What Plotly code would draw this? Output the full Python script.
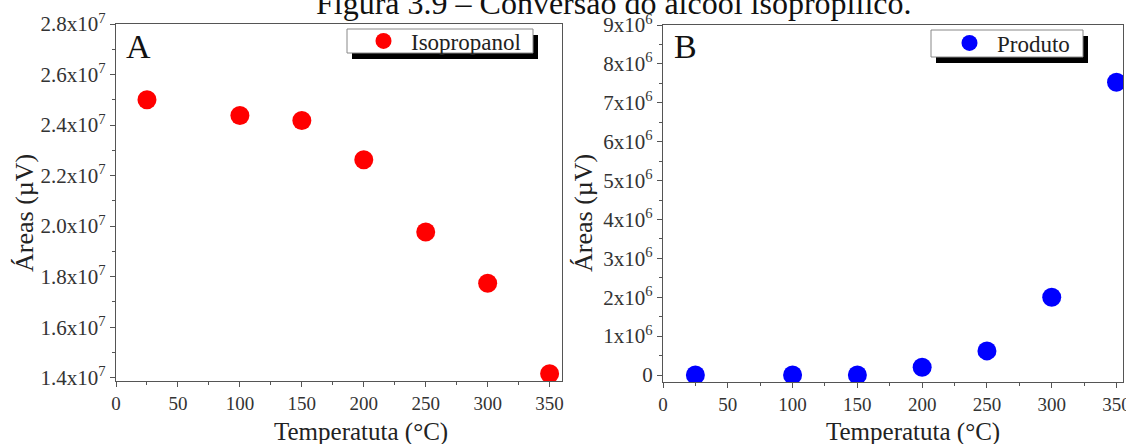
import plotly.graph_objects as go

# Data
temperatures = [25, 100, 150, 200, 250, 300, 350]
isopropanol_area = [2.500e7, 2.438e7, 2.418e7, 2.263e7, 1.977e7, 1.774e7, 1.416e7]
produto_area = [0.0, 0.0, 0.0, 0.2e6, 0.62e6, 2.0e6, 7.53e6]

x_tickvals = [0, 50, 100, 150, 200, 250, 300, 350]
a_tickvals = [1.4e7, 1.6e7, 1.8e7, 2.0e7, 2.2e7, 2.4e7, 2.6e7, 2.8e7]
a_ticktext = ["1.4x10<sup>7</sup>", "1.6x10<sup>7</sup>", "1.8x10<sup>7</sup>", "2.0x10<sup>7</sup>",
              "2.2x10<sup>7</sup>", "2.4x10<sup>7</sup>", "2.6x10<sup>7</sup>", "2.8x10<sup>7</sup>"]
b_tickvals = [0, 1e6, 2e6, 3e6, 4e6, 5e6, 6e6, 7e6, 8e6, 9e6]
b_ticktext = ["0"] + [f"{i}x10<sup>6</sup>" for i in range(1, 10)]

W, H = 1126, 444
FONT = "Liberation Serif, Times New Roman, serif"
AXIS_COLOR = "#555555"
TEXT_COLOR = "#222222"


def px(x):
    return x / W


def py(y):
    return 1 - y / H


fig = go.Figure()

fig.add_trace(go.Scatter(
    x=temperatures, y=isopropanol_area, mode="markers", name="Isopropanol",
    marker=dict(color="#ff0000", size=19, line=dict(width=0)),
    xaxis="x", yaxis="y", legend="legend",
))
fig.add_trace(go.Scatter(
    x=temperatures, y=produto_area, mode="markers", name="Produto",
    marker=dict(color="#0000ff", size=19, line=dict(width=0)),
    xaxis="x2", yaxis="y2", legend="legend2",
))


def axis_style(tick_size):
    return dict(
        showline=True, linecolor=AXIS_COLOR, linewidth=1.3, mirror=True,
        ticks="outside", ticklen=5, tickwidth=1.2, tickcolor=AXIS_COLOR,
        showgrid=False, zeroline=False,
        tickfont=dict(family=FONT, size=tick_size, color="#333333"),
        automargin=False, ticklabeloverflow="allow",
    )


fig.update_layout(
    width=W, height=H,
    margin=dict(l=0, r=0, t=0, b=0),
    paper_bgcolor="white", plot_bgcolor="white",
    template="none",
    font=dict(family=FONT, color=TEXT_COLOR),
    xaxis=dict(domain=[px(116), px(562)], range=[0, 360], anchor="y",
               tickvals=x_tickvals,
               minor=dict(dtick=25, ticks="outside", ticklen=3, tickcolor=AXIS_COLOR),
               **axis_style(19)),
    yaxis=dict(domain=[py(381), py(24)], range=[1.387e7, 2.8e7], anchor="x",
               tickvals=a_tickvals, ticktext=a_ticktext,
               minor=dict(dtick=0.1e7, tick0=0, ticks="outside", ticklen=3, tickcolor=AXIS_COLOR),
               **axis_style(21)),
    xaxis2=dict(domain=[px(663), px(1123)], range=[0, 355], anchor="y2",
                tickvals=x_tickvals,
                minor=dict(dtick=25, ticks="outside", ticklen=3, tickcolor=AXIS_COLOR),
                **axis_style(19)),
    yaxis2=dict(domain=[py(382), py(25)], range=[-0.18e6, 9e6], anchor="x2",
                tickvals=b_tickvals, ticktext=b_ticktext,
                minor=dict(dtick=0.5e6, tick0=0, ticks="outside", ticklen=3, tickcolor=AXIS_COLOR),
                **axis_style(21)),
    legend=dict(x=px(356), y=py(41), xanchor="left", yanchor="middle",
                bgcolor="rgba(0,0,0,0)", borderwidth=0,
                font=dict(family=FONT, size=23, color=TEXT_COLOR),
                itemwidth=45, tracegroupgap=0),
    legend2=dict(x=px(942), y=py(43), xanchor="left", yanchor="middle",
                 bgcolor="rgba(0,0,0,0)", borderwidth=0,
                 font=dict(family=FONT, size=23, color=TEXT_COLOR),
                 itemwidth=45, tracegroupgap=0),
    showlegend=True,
)

# Legend frames with drop shadows
for (x0, y0, x1, y1) in [(347, 29, 533, 53), (931, 30, 1083, 57)]:
    fig.add_shape(type="rect", xref="paper", yref="paper", layer="below",
                  x0=px(x0 + 5), x1=px(x1 + 5), y0=py(y1 + 6), y1=py(y0 + 6),
                  fillcolor="black", line=dict(width=0))
    fig.add_shape(type="rect", xref="paper", yref="paper", layer="below",
                  x0=px(x0), x1=px(x1), y0=py(y1), y1=py(y0),
                  fillcolor="white", line=dict(color="#888888", width=1))

annotations = [
    # Figure caption
    dict(text="Figura 3.9 – Conversão do álcool isopropílico.", x=px(613), y=py(3),
         xanchor="center", yanchor="middle", font=dict(size=32, color="#111111")),
    # Panel letters
    dict(text="A", x=px(138), y=py(46), xanchor="center", yanchor="middle", font=dict(size=34, color="#111111")),
    dict(text="B", x=px(685), y=py(46), xanchor="center", yanchor="middle", font=dict(size=34, color="#111111")),
    # Axis titles
    dict(text="Temperatuta (°C)", x=px(361), y=py(432), xanchor="center", yanchor="middle", font=dict(size=25)),
    dict(text="Temperatuta (°C)", x=px(913), y=py(432), xanchor="center", yanchor="middle", font=dict(size=25)),
    dict(text="Áreas (µV)", x=px(24), y=py(213), xanchor="center", yanchor="middle", textangle=-90, font=dict(size=26)),
    dict(text="Áreas (µV)", x=px(583), y=py(213), xanchor="center", yanchor="middle", textangle=-90, font=dict(size=26)),
]
for a in annotations:
    a.update(xref="paper", yref="paper", showarrow=False)
    a["font"] = dict(family=FONT, color=a["font"].get("color", TEXT_COLOR), size=a["font"]["size"])
    fig.add_annotation(**a)

fig.write_html("out.html")
